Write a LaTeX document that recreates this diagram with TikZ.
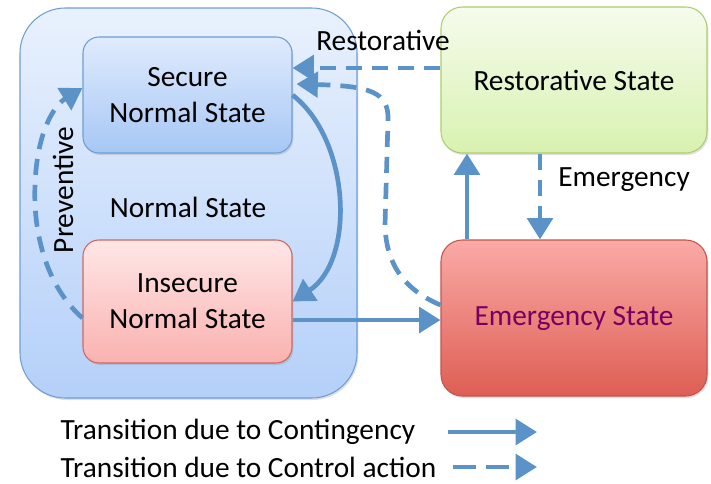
\documentclass[tikz,border=0pt]{standalone}
\usepackage{fontspec}
\setmainfont{Carlito}
\usetikzlibrary{arrows.meta,shadows}

\definecolor{flowblue}{RGB}{91,147,201}
\definecolor{normline}{RGB}{110,158,214}
\definecolor{emergtext}{RGB}{118,0,98}

\begin{document}
\begin{tikzpicture}[x=0.75pt, y=-0.75pt,
    every node/.style={font=\fontsize{22}{27}\selectfont},
    box/.style={draw, align=center, inner sep=0pt, line width=0.8pt,
        drop shadow={shadow xshift=1pt, shadow yshift=-1.5pt, opacity=0.25}},
    flow/.style={draw=flowblue, line width=3.5pt,
        -{Triangle[length=16pt, width=19pt]}},
    ctrl/.style={flow, dash pattern=on 12pt off 7.5pt}]
    \useasboundingbox (0,0) rectangle (711,483);

    % the big box of Normal State
    \node[box, draw=normline, top color={rgb,255:red,233;green,241;blue,253},
        bottom color={rgb,255:red,180;green,208;blue,249}, rounded corners=34pt,
        minimum width=337*0.75pt, minimum height=390*0.75pt] (normal) at (188.5,203) {};
    \node (normlabel) at (188,207) {Normal State};

    % the two boxes inside Normal State
    \node[box, draw=normline, top color={rgb,255:red,224;green,235;blue,253},
        bottom color={rgb,255:red,166;green,199;blue,245}, rounded corners=12pt,
        minimum width=209*0.75pt, minimum height=116*0.75pt] (secure) at (187.5,95)
        {Secure\\Normal State};
    \node[box, draw={rgb,255:red,204;green,104;blue,100}, top color={rgb,255:red,255;green,230;blue,230},
        bottom color={rgb,255:red,249;green,178;blue,176}, rounded corners=12pt,
        minimum width=209*0.75pt, minimum height=123*0.75pt] (insecure) at (187.5,301.5)
        {Insecure\\Normal State};

    % the boxes on the right
    \node[box, draw={rgb,255:red,172;green,206;blue,112}, top color={rgb,255:red,246;green,251;blue,237},
        bottom color={rgb,255:red,216;green,242;blue,176}, rounded corners=16pt,
        minimum width=266*0.75pt, minimum height=146*0.75pt] (restor) at (574,80)
        {Restorative State};
    \node[box, draw={rgb,255:red,196;green,84;blue,78}, top color={rgb,255:red,250;green,170;blue,166},
        bottom color={rgb,255:red,222;green,94;blue,84}, rounded corners=16pt,
        minimum width=266*0.75pt, minimum height=156*0.75pt, text=emergtext] (emerg) at (574,318)
        {Emergency State};

    % labels of the transitions
    \node (restlabel) at (383,40) {Restorative};
    \node (emlabel) at (624,180) {Emergency};
    \node[rotate=90] (prevlabel) at (63,190) {Preventive};

    % Restorative -> Secure
    \draw[ctrl] ([yshift=9pt]restor.west) -- ([yshift=9pt]restor.west -| secure.east);
    % Emergency -> Secure, round the Normal State box
    \draw[ctrl] ([yshift=9.75pt]emerg.west) .. controls (405,290) and (386,265) .. (385,225)
        -- (388,120) .. controls (389,92) and (370,86) .. ([yshift=8.25pt,xshift=3pt]secure.east);
    % Secure -> Insecure
    \draw[flow] (secure.east) .. controls +(58,45) and +(63,-41.5) .. (insecure.east);
    % Insecure -> Secure (Preventive)
    \draw[ctrl] ([yshift=-12.4pt]insecure.west) .. controls (45,285) and (33,230) .. (35,185)
        .. controls (37,130) and (55,105) .. ([yshift=5.25pt]secure.west);
    % Insecure -> Emergency
    \draw[flow] ([yshift=-13.9pt]insecure.east) -- ([yshift=-13.9pt]insecure.east -| emerg.west);
    % Emergency -> Restorative
    \draw[flow] ([xshift=-80.25pt]emerg.north) -- ([xshift=-80.25pt]emerg.north |- restor.south);
    % Restorative -> Emergency
    \draw[ctrl] ([xshift=-25.5pt]restor.south) -- ([xshift=-25.5pt]restor.south |- emerg.north);

    % the legend
    \node[anchor=west] (legcont) at (56,432) {Transition due to Contingency};
    \node[anchor=west] (legctrl) at (56,467) {Transition due to Control action};
    \coordinate (contfrom) at (448,432);
    \coordinate (contto) at (537,432);
    \coordinate (ctrlfrom) at (453,467);
    \coordinate (ctrlto) at (537,467);
    \draw[flow] (contfrom) -- (contto);
    \draw[ctrl, dash pattern=on 17pt off 8pt] (ctrlfrom) -- (ctrlto);
\end{tikzpicture}
\end{document}
